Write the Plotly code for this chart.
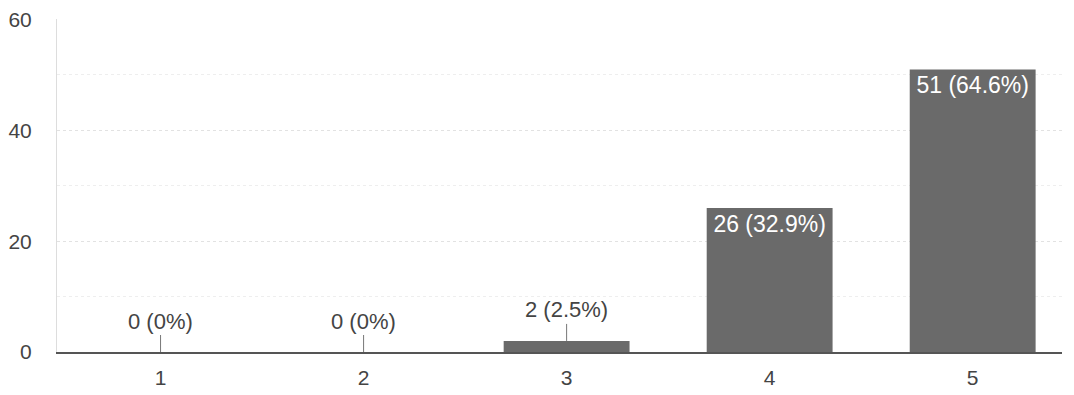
import plotly.graph_objects as go

# Response counts per rating
ratings = [1, 2, 3, 4, 5]
counts = [0, 0, 2, 26, 51]
labels = ["0 (0%)", "0 (0%)", "2 (2.5%)", "26 (32.9%)", "51 (64.6%)"]
y_ticks = [0, 20, 40, 60]

FONT = "Liberation Sans, Arial, sans-serif"
BAR = "#6a6a6a"

# big bars carry their label inside, small ones get a leader line above
inside = [c >= 10 for c in counts]

fig = go.Figure()
fig.add_trace(go.Bar(
    x=ratings,
    y=counts,
    width=0.62,
    marker=dict(color=BAR, line=dict(width=0)),
    text=[lab if ins else "" for lab, ins in zip(labels, inside)],
    textposition="inside",
    insidetextanchor="end",
    textfont=dict(family=FONT, size=23, color="white"),
    cliponaxis=False,
    hoverinfo="skip",
))

for x, y, lab, ins in zip(ratings, counts, labels, inside):
    if ins:
        continue
    fig.add_annotation(
        x=x, y=y, text=lab,
        showarrow=True, arrowhead=0, arrowwidth=1, arrowcolor="#777",
        ax=0, ay=-31,
        font=dict(family=FONT, size=22, color="#444"),
    )

fig.update_xaxes(
    range=[0.49, 5.44],
    tickvals=ratings,
    ticktext=[str(r) for r in ratings],
    showgrid=False,
    showline=True, linecolor="#555", linewidth=2,
    ticks="", zeroline=False,
    tickfont=dict(family=FONT, size=21, color="#444"),
    ticklabelstandoff=6,
    automargin=False,
)
fig.update_yaxes(
    range=[0, 60.1],
    tickvals=y_ticks,
    showgrid=True, gridcolor="#e2e2e2", gridwidth=1, griddash="dot",
    minor=dict(dtick=10, showgrid=True, gridcolor="#eeeeee", griddash="dot"),
    showline=True, linecolor="#dddddd", linewidth=1,
    zeroline=False, ticks="",
    tickfont=dict(family=FONT, size=21, color="#444"),
    ticklabelstandoff=20,
    ticklabeloverflow="allow",
    automargin=False,
)
fig.update_layout(
    width=1074, height=395,
    margin=dict(l=49, r=20, t=11, b=51),
    plot_bgcolor="white", paper_bgcolor="white",
    showlegend=False,
    bargap=0.38,
)

fig.write_html("out.html")
